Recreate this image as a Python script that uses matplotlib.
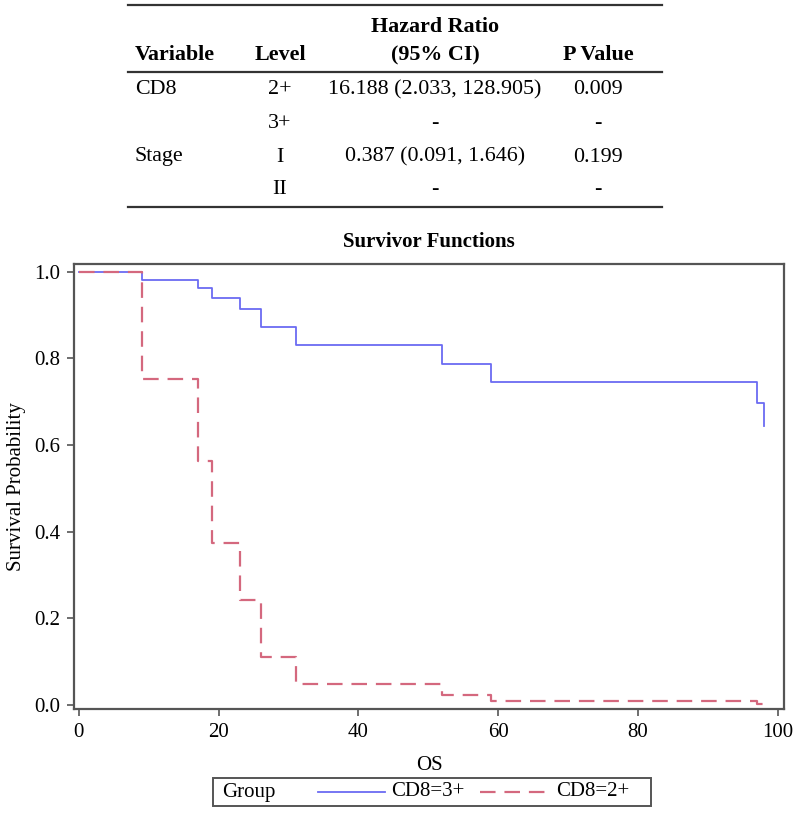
import matplotlib
matplotlib.use("Agg")
import matplotlib.pyplot as plt
from matplotlib.lines import Line2D
from matplotlib.patches import Rectangle

plt.rcParams['font.family'] = ['Liberation Serif', 'DejaVu Serif']

# ---------------- data ----------------
table_header_top = ["", "", "Hazard Ratio", ""]
table_header = ["Variable", "Level", "(95% CI)", "P Value"]
table_variable = ["CD8", "", "Stage", ""]
table_level = ["2+", "3+", "I", "II"]
table_hr = ["16.188 (2.033, 128.905)", "-", "0.387 (0.091, 1.646)", "-"]
table_p = ["0.009", "-", "0.199", "-"]

cd8_3_time = [0, 9, 17, 19, 23, 26, 31, 52, 59, 97, 98]
cd8_3_surv = [1.0, 0.981, 0.963, 0.939, 0.915, 0.872, 0.830, 0.787, 0.745, 0.697, 0.645]

cd8_2_time = [0, 9, 17, 19, 23, 26, 31, 52, 59, 97, 98]
cd8_2_surv = [1.0, 0.753, 0.563, 0.375, 0.242, 0.110, 0.048, 0.023, 0.009, 0.002, 0.002]

group_labels = ["CD8=3+", "CD8=2+"]
x_ticks = [0, 20, 40, 60, 80, 100]
y_ticks = [0.0, 0.2, 0.4, 0.6, 0.8, 1.0]

# ---------------- layout ----------------
W, H = 800, 823
fig = plt.figure(figsize=(W / 100, H / 100), dpi=100)


def fx(x):
    return x / W


def fy(y):
    return 1 - y / H


BLUE = '#6b6bf2'
RED = '#d4687e'
FRAME = '#555555'
FS = 15

# ---------------- table ----------------
rule_kw = dict(color='#333333', lw=1.6, transform=fig.transFigure)
for yy in (5, 72, 207):
    fig.add_artist(Line2D([fx(128), fx(662)], [fy(yy), fy(yy)], **rule_kw))

tfs = 15.8
fig.text(fx(435), fy(27), table_header_top[2], ha='center', va='center',
         fontsize=tfs, fontweight='bold')
col_x = [135, 280, 435, 598]
col_ha = ['left', 'center', 'center', 'center']
for txt, x, ha in zip(table_header, col_x, col_ha):
    fig.text(fx(x), fy(55), txt, ha=ha, va='center', fontsize=tfs, fontweight='bold')

row_y = [90, 123, 157, 189]
for i, y in enumerate(row_y):
    row = [table_variable[i], table_level[i], table_hr[i], table_p[i]]
    for txt, x, ha in zip(row, col_x, col_ha):
        if txt:
            fig.text(fx(x), fy(y), txt, ha=ha, va='center', fontsize=tfs)

# ---------------- survival plot ----------------
ax = fig.add_axes([fx(74), fy(709), fx(784) - fx(74), fy(264) - fy(709)])
ax.step(cd8_3_time, cd8_3_surv, where='post', color=BLUE, lw=1.3)
ax.step(cd8_2_time, cd8_2_surv, where='post', color=RED, lw=1.6,
        dashes=(7, 4))

ax.set_xlim(-0.7, 100.9)
ax.set_ylim(-0.009, 1.018)
ax.set_xticks(x_ticks)
ax.set_yticks(y_ticks)
ax.set_yticklabels([f"{v:.1f}" for v in y_ticks])
for s in ax.spines.values():
    s.set_color(FRAME)
    s.set_linewidth(1.6)
ax.tick_params(direction='out', length=5, width=1.2, color=FRAME,
               labelsize=FS, pad=5)

ax.set_title("Survivor Functions", fontsize=FS, fontweight='bold', pad=12)
ax.set_xlabel("OS", fontsize=FS, labelpad=10)
ax.set_ylabel("Survival Probability", fontsize=FS, labelpad=6)

# ---------------- legend ----------------
fig.add_artist(Rectangle((fx(213), fy(806)), fx(651) - fx(213), fy(778) - fy(806),
                         transform=fig.transFigure, fill=False,
                         edgecolor=FRAME, lw=1.4))
ly = fy(792)
fig.text(fx(222), ly, "Group", ha='left', va='center', fontsize=FS)
fig.add_artist(Line2D([fx(318), fx(385)], [ly, ly], color=BLUE, lw=1.3,
                      transform=fig.transFigure))
fig.text(fx(391), ly, group_labels[0], ha='left', va='center', fontsize=FS)
fig.add_artist(Line2D([fx(480), fx(548)], [ly, ly], color=RED, lw=1.6,
                      dashes=(7, 4), transform=fig.transFigure))
fig.text(fx(556), ly, group_labels[1], ha='left', va='center', fontsize=FS)

fig.savefig("out.png", dpi=100)
